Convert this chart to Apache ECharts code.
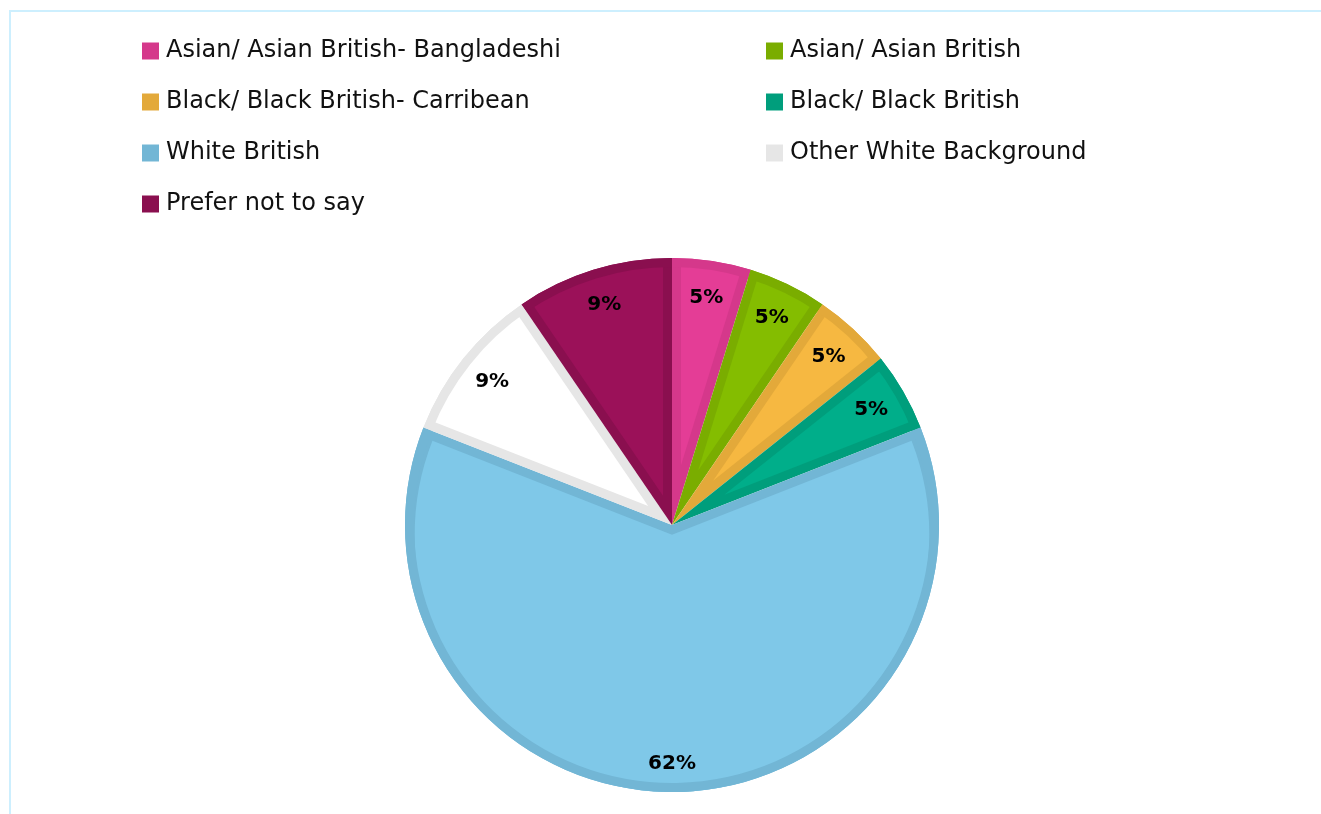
<!DOCTYPE html>
<html>
<head>
<meta charset="utf-8">
<script src="https://cdn.jsdelivr.net/npm/echarts@6.0.0/dist/echarts.min.js"></script>
<style>
  html, body { margin: 0; padding: 0; background: #ffffff; overflow: hidden; }
  #card { position: absolute; left: 9px; top: 10px; width: 1400px; height: 900px;
          border-left: 2px solid #cdeffe; border-top: 2px solid #cdeffe; box-sizing: border-box; }
  #chart { position: absolute; left: 0; top: 0; width: 1321px; height: 814px; }
</style>
</head>
<body>
<div id="card"></div>
<div id="chart"></div>
<script>
// ---- data ----
const categories = [
  'Asian/ Asian British- Bangladeshi',
  'Asian/ Asian British',
  'Black/ Black British- Carribean',
  'Black/ Black British',
  'White British',
  'Other White Background',
  'Prefer not to say'
];
const counts = [1, 1, 1, 1, 13, 2, 2];
const fillColors = ['#e43d96', '#84bd00', '#f6b841', '#00ae8a', '#7fc8e8', '#ffffff', '#9b1159'];
const borderColors = ['#d5388b', '#7aad00', '#e3a93a', '#009e7c', '#72b6d5', '#e6e6e6', '#8a0f4f'];
const legendLeftIdx = [0, 2, 4, 6];
const legendRightIdx = [1, 3, 5];

// ---- layout ----
const CX = 672, CY = 525, R = 267, W = 9;
const FONT = '"DejaVu Sans", Inter, sans-serif';
const total = counts.reduce((a, b) => a + b, 0);
const bigIdx = counts.indexOf(Math.max.apply(null, counts));

const chart = echarts.init(document.getElementById('chart'), null, { renderer: 'canvas' });

const common = {
  type: 'pie',
  center: [CX, CY],
  startAngle: 90,
  clockwise: true,
  avoidLabelOverlap: false,
  silent: true,
  labelLine: { show: false },
  emphasis: { disabled: true },
  itemStyle: { borderWidth: 0 }
};

const series = [];
// base: whole disc in border colours
series.push(Object.assign({}, common, {
  name: 'base', z: 1, radius: [0, R],
  label: { show: false },
  data: categories.map((c, i) => ({ name: c, value: counts[i], itemStyle: { color: borderColors[i] } }))
}));

// inner fill of every slice, pushed out along its bisector so that its
// straight edges sit W pixels inside the slice edges
categories.forEach((c, k) => {
  const half = Math.PI * counts[k] / total;
  const d = W / Math.sin(half);
  const cosH = Math.cos(half);
  const target = R - W;
  const need = (-2 * d * cosH + Math.sqrt(4 * d * d * cosH * cosH - 4 * (d * d - target * target))) / 2;
  const r = Math.min(need + 1, R - d);
  series.push(Object.assign({}, common, {
    name: 'fill' + k, z: 2, radius: [0, r],
    selectedMode: 'multiple',
    selectedOffset: d,
    select: { itemStyle: { borderWidth: 0 } },
    label: { show: false },
    data: categories.map((n, i) => ({
      name: n, value: counts[i], selected: i === k,
      itemStyle: { color: i === k ? fillColors[i] : 'rgba(0,0,0,0)' }
    }))
  }));
});

// outer ring of border colour
series.push(Object.assign({}, common, {
  name: 'ring', z: 3, radius: [R - W, R],
  label: { show: false },
  data: categories.map((c, i) => ({ name: c, value: counts[i], itemStyle: { color: borderColors[i] } }))
}));

const labelStyle = {
  show: true, position: 'inside', formatter: '{d}%',
  color: '#000000', fontFamily: FONT, fontWeight: 'bold', fontSize: 20
};
// labels of the small slices
series.push(Object.assign({}, common, {
  name: 'labels', z: 4, radius: [R - 80, R],
  percentPrecision: 0,
  label: labelStyle,
  data: categories.map((c, i) => ({
    name: c, value: counts[i], itemStyle: { color: 'rgba(0,0,0,0)' },
    label: { show: i !== bigIdx }
  }))
}));
// label of the large slice
series.push(Object.assign({}, common, {
  name: 'labelsBig', z: 4, radius: [R - 62, R],
  percentPrecision: 0,
  label: labelStyle,
  data: categories.map((c, i) => ({
    name: c, value: counts[i], itemStyle: { color: 'rgba(0,0,0,0)' },
    label: { show: i === bigIdx }
  }))
}));

const legendCommon = {
  orient: 'vertical',
  top: 39,
  padding: 0,
  itemWidth: 17,
  itemHeight: 17,
  itemGap: 27,
  icon: 'rect',
  selectedMode: false,
  textStyle: { fontFamily: FONT, fontSize: 24, color: '#111111', padding: [0, 0, 0, 2] }
};

chart.setOption({
  animation: false,
  backgroundColor: 'transparent',
  legend: [
    Object.assign({}, legendCommon, { left: 142, data: legendLeftIdx.map(i => categories[i]) }),
    Object.assign({}, legendCommon, { left: 766, data: legendRightIdx.map(i => categories[i]) })
  ],
  series: series
});
</script>
</body>
</html>
